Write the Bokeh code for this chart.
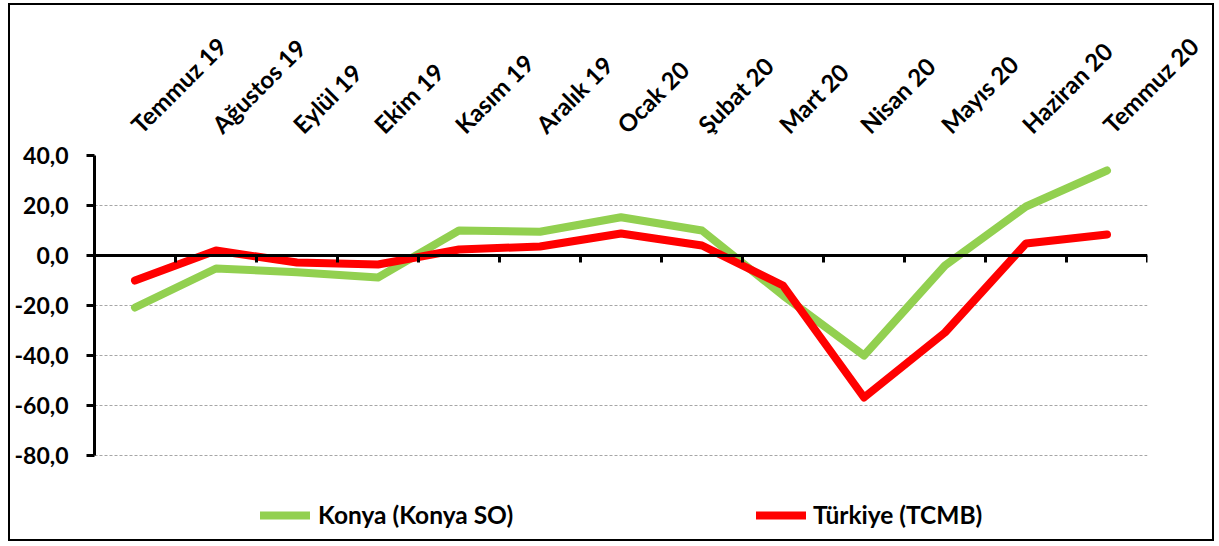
from math import pi
from bokeh.plotting import figure
from bokeh.models import (Range1d, LinearAxis, FixedTicker, CustomJSTickFormatter,
                          Legend, LegendItem)
from bokeh.embed import file_html
from bokeh.resources import INLINE

categories = ["Temmuz 19", "Ağustos 19", "Eylül 19", "Ekim 19", "Kasım 19", "Aralık 19",
              "Ocak 20", "Şubat 20", "Mart 20", "Nisan 20", "Mayıs 20", "Haziran 20", "Temmuz 20"]
konya = [-20.8, -5.2, -6.7, -8.8, 10.0, 9.5, 15.3, 10.0, -16.0, -40.0, -4.0, 19.6, 34.0]
turkiye = [-10.0, 2.0, -2.8, -3.6, 2.4, 3.6, 8.8, 4.0, -12.0, -56.8, -30.8, 4.8, 8.4]
y_ticks = [-80, -60, -40, -20, 0, 20, 40]
series_names = ["Konya (Konya SO)", "Türkiye (TCMB)"]

n = len(categories)
x_pos = [i + 0.5 for i in range(n)]          # category centres on a 0..n scale
bounds = list(range(n + 1))                   # category boundaries

FONT = "Lato"
FSIZE = "23px"

# frame extends below -80 to leave room for the legend; axis/grid limited to -80..40
p = figure(width=1206, height=538, x_range=Range1d(0, n), y_range=Range1d(-115.2, 40),
           x_axis_location=None, output_backend="svg", toolbar_location=None,
           min_border_left=84, min_border_right=69, min_border_top=150, min_border_bottom=0)
p.outline_line_color = None
p.background_fill_color = "white"
p.border_fill_color = "white"
p.styles = {"border": "2px solid #000000", "margin-left": "8px", "margin-top": "3px"}

# grid
p.xgrid.grid_line_color = None
p.ygrid.ticker = FixedTicker(ticks=y_ticks)
p.ygrid.grid_line_color = "#A6A6A6"
p.ygrid.grid_line_dash = "3 2"
p.ygrid.grid_line_width = 1

# y axis
p.yaxis.ticker = FixedTicker(ticks=y_ticks)
p.yaxis.bounds = (min(y_ticks), max(y_ticks))
p.yaxis.formatter = CustomJSTickFormatter(code="return tick.toFixed(1).replace('.', ',');")
p.yaxis.major_label_text_font = FONT
p.yaxis.major_label_text_font_style = "bold"
p.yaxis.major_label_text_font_size = FSIZE
p.yaxis.major_label_text_color = "black"
p.yaxis.axis_line_width = 3
p.yaxis.axis_line_color = "black"
p.yaxis.major_tick_line_width = 3
p.yaxis.major_tick_line_color = "black"
p.yaxis.major_tick_out = 8
p.yaxis.major_tick_in = 0
p.yaxis.minor_tick_line_color = None
p.yaxis.major_label_standoff = 18

# category labels above
top_axis = LinearAxis(ticker=FixedTicker(ticks=x_pos),
                      formatter=CustomJSTickFormatter(args=dict(labels=categories),
                                                      code="return labels[Math.floor(tick)];"))
top_axis.axis_line_color = None
top_axis.major_tick_line_color = None
top_axis.minor_tick_line_color = None
top_axis.major_label_orientation = pi / 4
top_axis.major_label_text_font = FONT
top_axis.major_label_text_font_style = "bold"
top_axis.major_label_text_font_size = "24px"
top_axis.major_label_text_color = "black"
top_axis.major_label_standoff = 21
p.add_layout(top_axis, "above")

# zero axis with ticks at category boundaries
zero_axis = LinearAxis(ticker=FixedTicker(ticks=bounds), fixed_location=0)
zero_axis.major_label_text_font_size = "0px"
zero_axis.major_label_text_color = None
zero_axis.axis_line_width = 3
zero_axis.axis_line_color = "black"
zero_axis.major_tick_line_width = 3
zero_axis.major_tick_line_color = "black"
zero_axis.major_tick_out = 7
zero_axis.major_tick_in = 0
zero_axis.minor_tick_line_color = None
p.add_layout(zero_axis, "below")

g = p.line(x_pos, konya, line_color="#92D050", line_width=8,
           line_join="round", line_cap="round")
r = p.line(x_pos, turkiye, line_color="#FF0000", line_width=8,
           line_join="round", line_cap="round")

def make_legend(label, rend, loc, standoff):
    return Legend(items=[LegendItem(label=label, renderers=[rend])], location=loc,
                  orientation="horizontal", glyph_width=50, glyph_height=20,
                  label_standoff=standoff, padding=0, margin=0, spacing=0,
                  border_line_color=None, background_fill_alpha=0,
                  label_text_font=FONT, label_text_font_style="bold",
                  label_text_font_size="24.5px", label_text_color="black", label_height=20)

p.add_layout(make_legend(series_names[0], g, (166, 14), 8))
p.add_layout(make_legend(series_names[1], r, (662, 14), 7))

open("out.html", "w").write(file_html(p, INLINE))
